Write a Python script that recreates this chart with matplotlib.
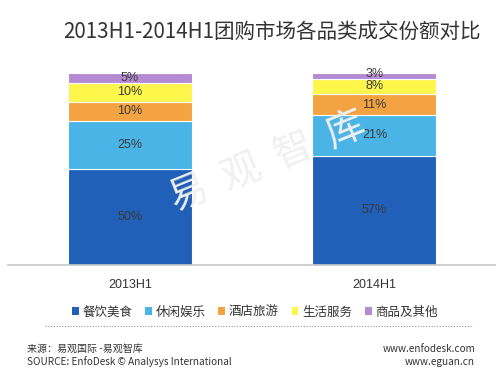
import matplotlib
matplotlib.use("Agg")
import matplotlib.pyplot as plt
from matplotlib.patches import Patch
from matplotlib.lines import Line2D

plt.rcParams['font.family'] = ['Noto Sans CJK SC', 'DejaVu Sans']

periods = ["2013H1", "2014H1"]
categories = ["餐饮美食", "休闲娱乐", "酒店旅游", "生活服务", "商品及其他"]
shares = {
    "餐饮美食": [50, 57],
    "休闲娱乐": [25, 21],
    "酒店旅游": [10, 11],
    "生活服务": [10, 8],
    "商品及其他": [5, 3],
}
colors = ["#2060B8", "#4BB4E6", "#F4A342", "#FFF64C", "#B48BD3"]

fig = plt.figure(figsize=(5, 3.71), dpi=100)
ax = fig.add_axes([8 / 500, 1 - 265 / 371, 487 / 500, (265 - 73) / 371])

x = [0, 1]
bottom = [0, 0]
for cat, col in zip(categories, colors):
    vals = shares[cat]
    ax.bar(x, vals, bottom=bottom, width=0.507, color=col,
           edgecolor="white", linewidth=0.8, zorder=2)
    for xi, v, b in zip(x, vals, bottom):
        yl = b + v / 2 if v > 4 else b + v / 2 + 0.8
        ax.text(xi, yl, f"{v}%", ha="center", va="center", family="Liberation Sans",
                fontsize=9, color="#3a3a3a", zorder=3)
    bottom = [b + v for b, v in zip(bottom, vals)]

ax.set_xlim(-0.499, 1.493)
ax.set_ylim(0, 100)
for s in ["top", "right", "left"]:
    ax.spines[s].set_visible(False)
ax.spines["bottom"].set_color("#c8c8c8")
ax.spines["bottom"].set_linewidth(1.2)
ax.set_yticks([])
ax.set_xticks(x)
ax.set_xticklabels(periods, fontsize=9, color="#333333", family="Liberation Sans")
ax.tick_params(axis="x", length=0, pad=10)

# watermark
fig.text(268 / 500, 1 - 162 / 371, "易  观  智  库", fontsize=28, color="#f0f0f0",
         rotation=22, ha="center", va="center", zorder=0)

fig.text(272 / 500, 1 - 32 / 371, "2013H1-2014H1团购市场各品类成交份额对比",
         fontsize=14.8, color="#333333", ha="center", va="center", weight="medium")

handles = [Patch(facecolor=c, edgecolor="none") for c in colors]
fig.legend(handles, categories, loc="center", bbox_to_anchor=(255 / 500, 1 - 312 / 371),
           ncol=5, frameon=False, fontsize=9, handlelength=0.55, handleheight=0.55,
           handletextpad=0.3, columnspacing=1.0, labelcolor="#333333")

fig.add_artist(Line2D([45 / 500, 473 / 500], [1 - 326 / 371, 1 - 326 / 371],
                      transform=fig.transFigure, color="#999999",
                      linestyle=(0, (1, 1.5)), linewidth=0.8))

fig.text(27 / 500, 1 - 349 / 371, "来源：易观国际 -易观智库", fontsize=7.2,
         color="#333333", ha="left", va="center")
fig.text(27 / 500, 1 - 362 / 371, "SOURCE: EnfoDesk © Analysys International",
         fontsize=7.2, color="#333333", ha="left", va="center")
fig.text(475 / 500, 1 - 349 / 371, "www.enfodesk.com", fontsize=7.2,
         color="#333333", ha="right", va="center")
fig.text(475 / 500, 1 - 362 / 371, "www.eguan.cn", fontsize=7.2,
         color="#333333", ha="right", va="center")

fig.savefig("out.png", dpi=100)
